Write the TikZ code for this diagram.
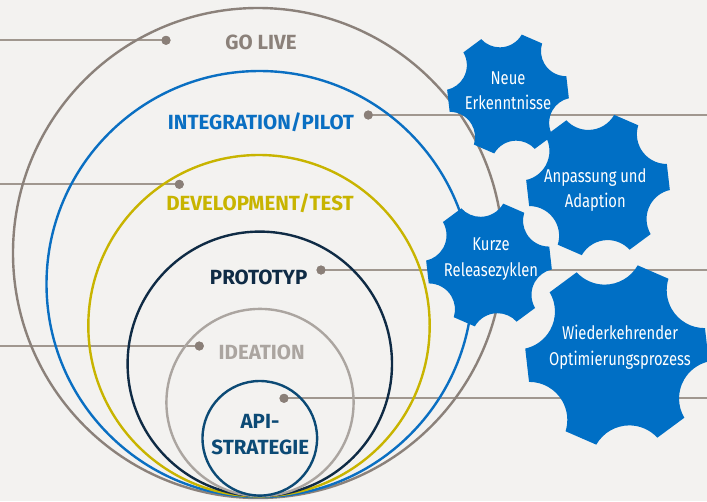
\documentclass[tikz,border=0pt]{standalone}
\usepackage{fontspec}
\setmainfont{Fira Sans}
\newfontfamily\lblfont{Fira Sans}
\newfontfamily\gearfont[FakeStretch=0.8]{Fira Sans}
\definecolor{bgc}{HTML}{F3F2F0}
\definecolor{golive}{HTML}{8B817A}
\definecolor{integ}{HTML}{0A6FC2}
\definecolor{devel}{HTML}{C8B400}
\definecolor{proto}{HTML}{0F2B45}
\definecolor{idea}{HTML}{ABA5A0}
\definecolor{api}{HTML}{0C4A75}
\definecolor{gearblue}{HTML}{006FC5}
\definecolor{connc}{HTML}{A0978F}
\definecolor{dotc}{HTML}{8A7F78}
% gear: centre (#1,#2), outer radius #3; 6 teeth, concave circular notches
\newcommand\cogshape[3]{%
  \begin{scope}[shift={(#1,#2)}]
    \pgfmathsetmacro\cogr{0.4127*#3}
    \fill[gearblue] (17:#3pt) \foreach \k in {0,...,5}{
        arc[start angle=\k*60+270.48, end angle=\k*60+162.52, radius=\cogr pt]
        -- (\k*60+77:#3pt) } -- cycle;
  \end{scope}}
\begin{document}
\begin{tikzpicture}[x=1pt,y=-1pt,
  ring/.style={line width=2.4pt},
  connline/.style={draw=connc, line width=1.8pt},
  dotnode/.style={circle, fill=dotc, minimum size=9pt, inner sep=0pt},
  lbl/.style={font=\lblfont\bfseries\fontsize{20.5}{22}\selectfont, anchor=base, inner sep=0pt},
  geartxt/.style={font=\gearfont\fontsize{18.5}{20}\selectfont, text=white, anchor=base, inner sep=0pt}]
\fill[bgc] (0,0) rectangle (707,501);
\useasboundingbox (0,0) rectangle (707,501);

% dots and connector ends
\node[dotnode] (d1) at (166,40.3) {};
\node[dotnode] (d2) at (368.3,115) {};
\node[dotnode] (d3) at (179.3,184.3) {};
\node[dotnode] (d4) at (321,270) {};
\node[dotnode] (d5) at (199.3,346) {};
\node[dotnode] (d6) at (284,398.3) {};
\coordinate (e1) at (0,40.3);
\coordinate (e2) at (707,115);
\coordinate (e3) at (0,184.3);
\coordinate (e4) at (707,270);
\coordinate (e5) at (0,346);
\coordinate (e6) at (707,398.3);
\draw[connline] (e1) -- (d1.center);
\draw[connline] (d2.center) -- (e2);
\draw[connline] (e3) -- (d3.center);
\draw[connline] (d4.center) -- (e4);
\draw[connline] (e5) -- (d5.center);
\draw[connline] (d6.center) -- (e6);

% rings
\draw[ring, golive] (258,253) circle (245pt);
\draw[ring, integ] (259.5,284) circle (213pt);
\draw[ring, devel] (259,325.7) circle (170.7pt);
\draw[ring, proto] (259.8,363.8) circle (132.2pt);
\draw[ring, idea] (260,402.5) circle (93.6pt);
\draw[ring, api] (259.8,438.3) circle (57.3pt);

% dots on top of rings
\fill[dotc] (d1) circle (4.5pt) (d2) circle (4.5pt) (d3) circle (4.5pt)
  (d4) circle (4.5pt) (d5) circle (4.5pt) (d6) circle (4.5pt);

% labels
\node[lbl, text=golive] (t1) at (261,49.3) {GO LIVE};
\node[lbl, text=integ] (t2) at (261,129.3) {INTEGRATION/PILOT};
\node[lbl, text=devel] (t3) at (260,210) {DEVELOPMENT/TEST};
\node[lbl, text=proto] (t4) at (258.7,284.3) {PROTOTYP};
\node[lbl, text=idea] (t5) at (261.7,359.3) {IDEATION};
\node[lbl, text=api] (t6a) at (260,428.3) {API-};
\node[lbl, text=api] (t6b) at (260.3,454) {STRATEGIE};

% gears
\cogshape{508}{94}{61}
\cogshape{598}{185}{72}
\cogshape{489}{265}{63}
\cogshape{617}{355}{92}
\node[geartxt] (g1a) at (508,84) {Neue};
\node[geartxt] (g1b) at (508,109.7) {Erkenntnisse};
\node[geartxt] (g2a) at (595.3,182) {Anpassung und};
\node[geartxt] (g2b) at (595.3,207.3) {Adaption};
\node[geartxt] (g3a) at (491,250.7) {Kurze};
\node[geartxt] (g3b) at (491,276.3) {Releasezyklen};
\node[geartxt] (g4a) at (620,339.7) {Wiederkehrender};
\node[geartxt] (g4b) at (620,365.7) {Optimierungsprozess};
\end{tikzpicture}
\end{document}
